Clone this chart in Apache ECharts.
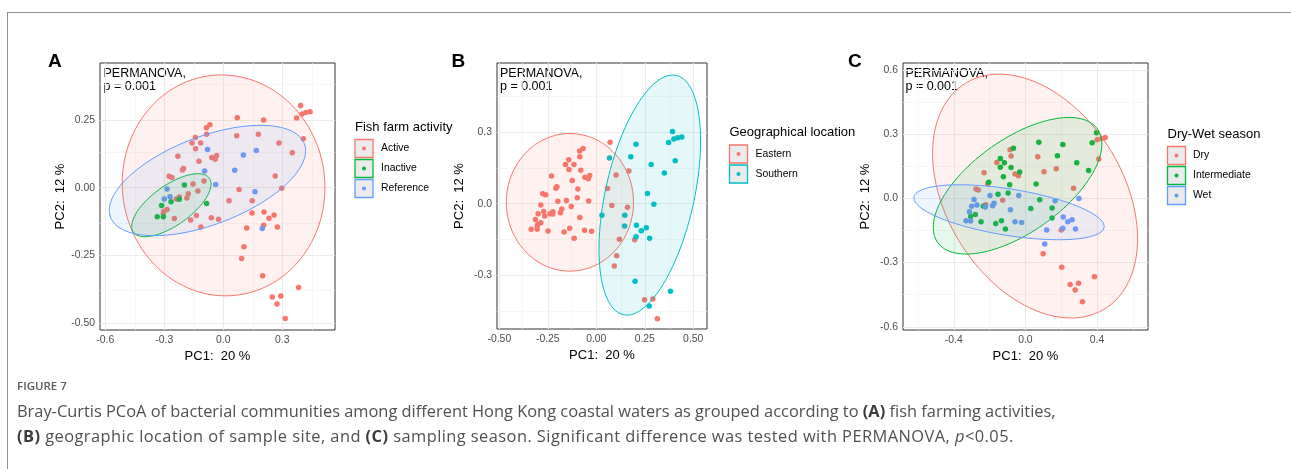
<!DOCTYPE html>
<html>
<head>
<meta charset="utf-8">
<title>Bray-Curtis PCoA</title>
<script src="https://cdn.jsdelivr.net/npm/echarts@6.0.0/dist/echarts.min.js"></script>
<style>
  html, body { margin: 0; padding: 0; background: #fff; }
  #wrap { position: relative; width: 1291px; height: 469px; overflow: hidden; }
  #frame { position: absolute; left: 7px; top: 12px; right: 0; bottom: 0; border-top: 1px solid #8f8f8f; border-left: 1px solid #8f8f8f; }
  #main { position: absolute; left: 0; top: 0; width: 1291px; height: 469px; }
  #caption { position: absolute; left: 17px; top: 376px; color: #505050; font-family: 'Open Sans', 'Noto Sans', sans-serif; }
  #caption .fig { font-size: 11.5px; font-weight: 600; color: #5a5a5a; line-height: 20px; }
  #caption .ln { font-size: 16.4px; line-height: 25px; white-space: nowrap; }
  #caption .first { margin-top: 2px; }
  #caption .second { letter-spacing: 0.45px; }
  #caption b { font-weight: 700; color: #3c3c3c; }
</style>
</head>
<body>
<div id="wrap">
  <div id="frame"></div>
  <div id="main"></div>
  <div id="caption">
    <div class="fig">FIGURE 7</div>
    <div class="ln first">Bray-Curtis PCoA of bacterial communities among different Hong Kong coastal waters as grouped according to <b>(A)</b> fish farming activities,</div>
    <div class="ln second"><b>(B)</b> geographic location of sample site, and <b>(C)</b> sampling season. Significant difference was tested with PERMANOVA, <i>p</i>&lt;0.05.</div>
  </div>
</div>
<script>
// ---- Panel A: fish farm activity (PC1, PC2 scores) ----
var activePts = [
  [0.393, 0.303], [0.373, 0.257], [0.400, 0.272], [0.420, 0.277], [0.441, 0.280],
  [0.407, 0.181], [0.351, 0.129], [0.283, 0.165], [0.205, 0.250], [0.178, 0.197],
  [0.071, 0.258], [0.068, 0.192], [0.264, 0.043], [0.297, -0.002], [0.080, -0.007],
  [0.029, -0.048], [0.147, -0.048], [0.146, -0.093], [0.207, -0.090], [0.258, -0.101],
  [0.232, -0.113], [0.205, -0.139], [0.275, -0.145], [0.119, -0.149], [0.105, -0.218],
  [0.093, -0.261], [0.200, -0.325], [0.383, -0.368], [0.249, -0.403], [0.292, -0.400],
  [0.273, -0.429], [0.315, -0.483],
  [-0.068, 0.232], [-0.086, 0.221], [-0.142, 0.185], [-0.085, 0.197], [-0.159, 0.165],
  [-0.115, 0.165], [-0.141, 0.144], [-0.231, 0.116], [-0.124, 0.098], [-0.034, 0.119],
  [-0.059, 0.111], [-0.041, 0.105], [-0.203, 0.071], [-0.208, 0.065], [-0.276, 0.042],
  [-0.261, 0.038], [-0.154, 0.014], [-0.098, 0.025], [-0.178, -0.022], [-0.185, -0.038],
  [-0.224, -0.034], [-0.239, -0.042], [-0.129, -0.012], [-0.286, -0.080], [-0.302, -0.087],
  [-0.305, -0.095], [-0.249, -0.114], [-0.166, -0.119], [-0.137, -0.103], [-0.114, -0.145],
  [-0.061, -0.111], [-0.024, -0.116]
];
var inactivePts = [
  [-0.198, 0.010], [-0.224, -0.043], [-0.266, -0.052], [-0.314, -0.066],
  [-0.085, -0.058], [-0.336, -0.107], [-0.305, -0.107]
];
var referencePts = [
  [-0.080, 0.141], [0.102, 0.121], [0.168, 0.137], [-0.095, 0.062], [0.058, 0.064],
  [-0.039, 0.012], [-0.286, -0.005], [-0.300, -0.042], [-0.271, -0.033], [0.161, -0.015],
  [0.198, -0.151]
];

// ---- Panel B: geographical location ----
var easternPts = [
  [0.071, 0.258], [0.080, -0.007], [0.119, -0.149], [0.105, -0.218], [0.093, -0.261],
  [0.249, -0.403], [0.292, -0.400], [0.315, -0.483],
  [0.102, 0.121], [0.168, 0.137], [0.058, 0.064], [0.161, -0.015], [0.198, -0.151],
  [-0.080, 0.141], [-0.095, 0.062], [-0.039, 0.012], [-0.286, -0.005], [-0.300, -0.042],
  [-0.271, -0.033], [-0.198, 0.010], [-0.224, -0.043], [-0.266, -0.052], [-0.314, -0.066],
  [-0.085, -0.058], [-0.336, -0.107], [-0.305, -0.107],
  [-0.068, 0.232], [-0.086, 0.221], [-0.142, 0.185], [-0.085, 0.197], [-0.159, 0.165],
  [-0.115, 0.165], [-0.141, 0.144], [-0.231, 0.116], [-0.124, 0.098], [-0.034, 0.119],
  [-0.059, 0.111], [-0.041, 0.105], [-0.203, 0.071], [-0.208, 0.065], [-0.276, 0.042],
  [-0.261, 0.038], [-0.154, 0.014], [-0.098, 0.025], [-0.178, -0.022], [-0.185, -0.038],
  [-0.224, -0.034], [-0.239, -0.042], [-0.129, -0.012], [-0.286, -0.080], [-0.302, -0.087],
  [-0.305, -0.095], [-0.249, -0.114], [-0.166, -0.119], [-0.137, -0.103], [-0.114, -0.145],
  [-0.061, -0.111], [-0.024, -0.116]
];
var southernPts = [
  [0.393, 0.303], [0.373, 0.257], [0.400, 0.272], [0.420, 0.277], [0.441, 0.280],
  [0.407, 0.181], [0.351, 0.129], [0.283, 0.165], [0.205, 0.250], [0.178, 0.197],
  [0.068, 0.192], [0.264, 0.043], [0.297, -0.002], [0.029, -0.048], [0.147, -0.048],
  [0.146, -0.093], [0.207, -0.090], [0.258, -0.101], [0.232, -0.113], [0.205, -0.139],
  [0.275, -0.145], [0.200, -0.325], [0.383, -0.368], [0.273, -0.429]
];

// ---- Panel C: dry-wet season ----
var dryPts = [
  [0.446, 0.285], [0.427, 0.280], [0.401, 0.274], [0.410, 0.184], [0.269, 0.047],
  [0.172, 0.139], [0.104, 0.125], [0.069, 0.195], [-0.086, 0.227], [-0.080, 0.198],
  [-0.160, 0.168], [-0.058, 0.114], [-0.039, 0.106], [-0.231, 0.120], [-0.211, 0.069],
  [-0.276, 0.044], [-0.263, 0.039], [-0.127, -0.009], [-0.222, -0.030], [0.200, -0.148],
  [0.099, -0.259], [0.203, -0.322], [0.386, -0.366], [0.250, -0.402], [0.297, -0.397],
  [0.278, -0.428], [0.319, -0.483]
];
var intermediatePts = [
  [0.397, 0.307], [0.373, 0.260], [0.209, 0.252], [0.075, 0.262], [-0.067, 0.234],
  [-0.140, 0.187], [-0.118, 0.167], [-0.140, 0.146], [-0.080, 0.145], [-0.032, 0.123],
  [0.179, 0.199], [0.287, 0.167], [0.353, 0.131], [-0.123, 0.101], [-0.088, 0.064],
  [-0.205, 0.076], [0.060, 0.067], [-0.153, 0.019], [-0.097, 0.025], [0.080, -0.006],
  [0.030, -0.047], [0.149, -0.045], [0.149, -0.092], [-0.235, -0.036], [-0.280, -0.075],
  [-0.306, -0.084], [-0.248, -0.109], [-0.166, -0.117], [-0.134, -0.104], [-0.112, -0.143]
];
var wetPts = [
  [-0.287, -0.005], [-0.198, 0.014], [-0.037, 0.014], [-0.271, -0.031], [-0.300, -0.037],
  [-0.313, -0.062], [-0.332, -0.104], [-0.306, -0.106], [-0.224, -0.040], [-0.183, -0.034],
  [-0.175, -0.022], [-0.084, -0.053], [-0.058, -0.109], [-0.021, -0.112], [0.166, -0.011],
  [0.299, 0.000], [0.211, -0.087], [0.237, -0.109], [0.261, -0.100], [0.280, -0.143],
  [0.119, -0.148], [0.209, -0.139], [0.108, -0.213]
];

// 95% ellipses: [centre x, centre y, half width, half height, correlation]
var ellipsesA = [[0.0015, 0.0085, 0.5155, 0.4075, -0.02], [-0.264, -0.0646, 0.2017, 0.1163, 0.67], [-0.0805, 0.0265, 0.4992, 0.2035, 0.54]];
var ellipsesB = [[-0.136, 0.006, 0.328, 0.289, 0.0], [0.276, 0.0364, 0.262, 0.504, 0.45]];
var ellipsesC = [[0.054, 0.011, 0.5728, 0.570, -0.35], [-0.0439, 0.0592, 0.4711, 0.3193, 0.61], [-0.0915, -0.0646, 0.5316, 0.1285, -0.52]];

// axis ranges, ticks and minor breaks
var aRangeX = [-0.627, 0.568], aRangeY = [-0.525, 0.46];
var aTicksX = [-0.6, -0.3, 0, 0.3], aTicksY = [-0.5, -0.25, 0, 0.25];
var aMinorX = [-0.45, -0.15, 0.15, 0.45], aMinorY = [-0.375, -0.125, 0.125, 0.375];
var bRangeX = [-0.512, 0.571], bRangeY = [-0.526, 0.591];
var bTicksX = [-0.5, -0.25, 0, 0.25, 0.5], bTicksY = [-0.3, 0, 0.3];
var bMinorX = [-0.375, -0.125, 0.125, 0.375], bMinorY = [-0.45, -0.15, 0.15, 0.45];
var cRangeX = [-0.684, 0.685], cRangeY = [-0.615, 0.633];
var cTicksX = [-0.4, 0, 0.4], cTicksY = [-0.6, -0.3, 0, 0.3, 0.6];
var cMinorX = [-0.6, -0.2, 0.2, 0.6], cMinorY = [-0.45, -0.15, 0.15, 0.45];

var namesA = ['Active', 'Inactive', 'Reference'];
var namesB = ['Eastern', 'Southern'];
var namesC = ['Dry', 'Intermediate', 'Wet'];
var colors3 = ['#F8766D', '#00BA38', '#619CFF'];
var colors2 = ['#F8766D', '#00BFC4'];

var FONT = "'Liberation Sans', Arial, sans-serif";

var panels = [
  { letter: 'A', legendTitle: 'Fish farm activity', names: namesA, colors: colors3,
    points: [activePts, inactivePts, referencePts], ellipses: ellipsesA,
    grid: { left: 100, top: 63, width: 235, height: 267 },
    rx: aRangeX, ry: aRangeY, tx: aTicksX, ty: aTicksY, mx: aMinorX, my: aMinorY, dx: 1, dy: 2,
    letterX: 48, noteX: 103.5, leg: { x: 355, titleY: 127.5, boxY: 139.5, labelX: 381 } },
  { letter: 'B', legendTitle: 'Geographical location', names: namesB, colors: colors2,
    points: [easternPts, southernPts], ellipses: ellipsesB,
    grid: { left: 497, top: 63, width: 210, height: 266 },
    rx: bRangeX, ry: bRangeY, tx: bTicksX, ty: bTicksY, mx: bMinorX, my: bMinorY, dx: 2, dy: 1,
    letterX: 451.5, noteX: 500, leg: { x: 729.5, titleY: 132, boxY: 145, labelX: 755.5 } },
  { letter: 'C', legendTitle: 'Dry-Wet season', names: namesC, colors: colors3,
    points: [dryPts, intermediatePts, wetPts], ellipses: ellipsesC,
    grid: { left: 903, top: 63, width: 245, height: 267 },
    rx: cRangeX, ry: cRangeY, tx: cTicksX, ty: cTicksY, mx: cMinorX, my: cMinorY, dx: 1, dy: 1,
    letterX: 848, noteX: 905.5, leg: { x: 1167.5, titleY: 134, boxY: 146.5, labelX: 1193 } }
];

function hexToRgba(hex, a) {
  var n = parseInt(hex.slice(1), 16);
  return 'rgba(' + (n >> 16) + ',' + ((n >> 8) & 255) + ',' + (n & 255) + ',' + a + ')';
}

// draws one stat_ellipse-like polygon through the panel's own axes
function ellipseRender(color) {
  return function (params, api) {
    var cx = api.value(0), cy = api.value(1), sx = api.value(2), sy = api.value(3), rho = api.value(4);
    var k = Math.sqrt(1 - rho * rho);
    var pts = [];
    for (var i = 0; i < 120; i++) {
      var t = 2 * Math.PI * i / 120;
      pts.push(api.coord([cx + sx * Math.cos(t), cy + sy * (rho * Math.cos(t) + k * Math.sin(t))]));
    }
    return {
      type: 'polygon',
      shape: { points: pts },
      style: { fill: hexToRgba(color, 0.1), stroke: color, lineWidth: 1 }
    };
  };
}

var grids = [], xAxes = [], yAxes = [], series = [], graphics = [];

panels.forEach(function (p, gi) {
  grids.push(Object.assign({ show: true, borderColor: '#333', borderWidth: 1, backgroundColor: '#fff' }, p.grid));

  xAxes.push({
    gridIndex: gi, type: 'value', min: p.rx[0], max: p.rx[1],
    axisLine: { show: false }, splitLine: { show: false },
    axisTick: { show: true, length: 3, customValues: p.tx, lineStyle: { color: '#333' } },
    axisLabel: { customValues: p.tx, margin: 5, color: '#4D4D4D', fontSize: 10.4, fontFamily: FONT,
      formatter: function (v) { return v.toFixed(p.dx); } },
    name: 'PC1:  20 %', nameLocation: 'middle', nameGap: 17,
    nameTextStyle: { color: '#000', fontSize: 13, fontFamily: FONT }
  });
  yAxes.push({
    gridIndex: gi, type: 'value', min: p.ry[0], max: p.ry[1],
    axisLine: { show: false }, splitLine: { show: false },
    axisTick: { show: true, length: 3, customValues: p.ty, lineStyle: { color: '#333' } },
    axisLabel: { customValues: p.ty, margin: 5, color: '#4D4D4D', fontSize: 10.4, fontFamily: FONT,
      formatter: function (v) { return v.toFixed(p.dy); } },
    name: 'PC2:  12 %', nameLocation: 'middle', nameGap: 31,
    nameTextStyle: { color: '#000', fontSize: 13, fontFamily: FONT }
  });

  // panel grid lines (major at ticks, minor in between)
  var gridLines = [];
  p.mx.forEach(function (v) { gridLines.push({ xAxis: v, lineStyle: { color: '#F4F4F4', width: 0.7, type: 'solid' } }); });
  p.my.forEach(function (v) { gridLines.push({ yAxis: v, lineStyle: { color: '#F4F4F4', width: 0.7, type: 'solid' } }); });
  p.tx.forEach(function (v) { gridLines.push({ xAxis: v, lineStyle: { color: '#EBEBEB', width: 1.1, type: 'solid' } }); });
  p.ty.forEach(function (v) { gridLines.push({ yAxis: v, lineStyle: { color: '#EBEBEB', width: 1.1, type: 'solid' } }); });

  p.points.forEach(function (pts, k) {
    var s = {
      type: 'scatter', name: p.names[k], xAxisIndex: gi, yAxisIndex: gi,
      data: pts, symbol: 'circle', symbolSize: 5.5, z: 3, silent: true,
      itemStyle: { color: p.colors[k], opacity: 1 },
      emphasis: { disabled: true }
    };
    if (k === 0) {
      s.markLine = { silent: true, symbol: ['none', 'none'], label: { show: false }, z: 1,
        emphasis: { disabled: true }, data: gridLines };
    }
    series.push(s);
  });
  p.ellipses.forEach(function (e, k) {
    series.push({
      type: 'custom', name: p.names[k] + ' ellipse', xAxisIndex: gi, yAxisIndex: gi,
      z: 4, silent: true, data: [e], renderItem: ellipseRender(p.colors[k])
    });
  });

  // panel letter and PERMANOVA note
  graphics.push({ type: 'text', x: p.letterX, y: 61.5,
    style: { text: p.letter, fill: '#000', font: 'bold 19px ' + FONT, verticalAlign: 'middle' } });
  graphics.push({ type: 'text', x: p.noteX, y: 73.3,
    style: { text: 'PERMANOVA,', fill: '#000', font: '12.5px ' + FONT, verticalAlign: 'middle' } });
  graphics.push({ type: 'text', x: p.noteX, y: 86.5,
    style: { text: 'p = 0.001', fill: '#000', font: '12.5px ' + FONT, verticalAlign: 'middle' } });

  // legend: title, keys and labels
  graphics.push({ type: 'text', x: p.leg.x, y: p.leg.titleY,
    style: { text: p.legendTitle, fill: '#000', font: '13px ' + FONT, verticalAlign: 'middle' } });
  p.names.forEach(function (nm, k) {
    var top = p.leg.boxY + 20 * k;
    graphics.push({ type: 'rect', shape: { x: p.leg.x, y: top, width: 18, height: 18 },
      style: { fill: '#EBEBEB', stroke: p.colors[k], lineWidth: 1.3 } });
    graphics.push({ type: 'circle', shape: { cx: p.leg.x + 9, cy: top + 9, r: 2 },
      style: { fill: p.colors[k] } });
    graphics.push({ type: 'text', x: p.leg.labelX, y: top + 9,
      style: { text: nm, fill: '#000', font: '10.4px ' + FONT, verticalAlign: 'middle' } });
  });
});

var chart = echarts.init(document.getElementById('main'), null, { renderer: 'canvas' });
chart.setOption({
  animation: false,
  backgroundColor: 'transparent',
  textStyle: { fontFamily: FONT },
  grid: grids,
  xAxis: xAxes,
  yAxis: yAxes,
  series: series,
  graphic: graphics
});
</script>
</body>
</html>
